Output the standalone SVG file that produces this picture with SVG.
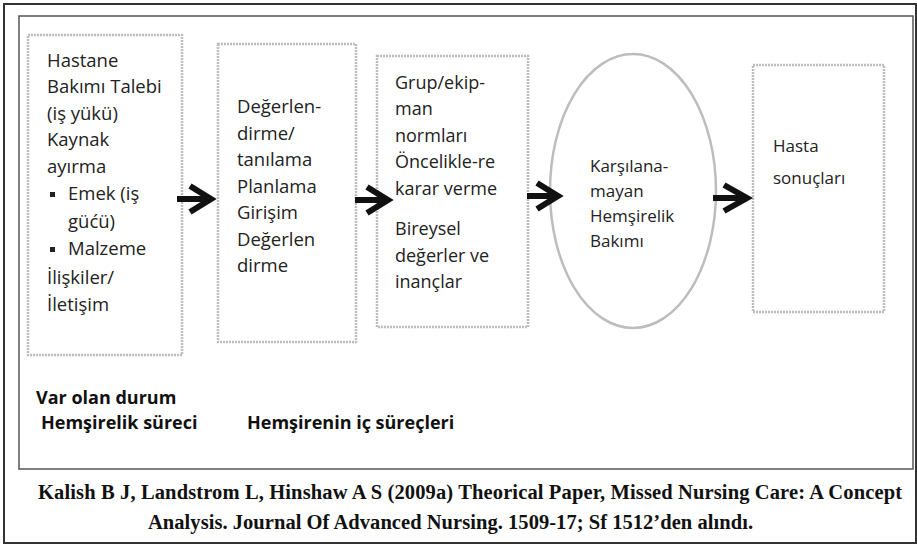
<svg xmlns="http://www.w3.org/2000/svg" width="917" height="544" viewBox="0 0 917 544">
<style>
.frame{fill:none;stroke:#333;stroke-width:2}
.inner{fill:none;stroke:#555;stroke-width:1.5}
.box{fill:#fff;stroke:#bdbdbd;stroke-width:2.5;stroke-dasharray:2 1}
.t{font-family:"Open Sans","DejaVu Sans",sans-serif;font-size:17px;fill:#222}
.l{font-size:18.5px}
.m{font-size:18px}
.b{font-family:"Open Sans","DejaVu Sans",sans-serif;font-size:18px;font-weight:bold;fill:#111}
.c{font-family:"Liberation Serif","Times New Roman",serif;font-size:20.5px;font-weight:bold;fill:#111}
.arr{fill:none;stroke:#111;stroke-width:6}
</style>
<rect x="0" y="0" width="917" height="544" fill="#fff"/>
<rect class="frame" x="4" y="4" width="912" height="539"/>
<rect class="inner" x="19" y="16" width="894" height="453"/>
<g id="node-durum">
<rect class="box" x="28" y="35" width="154" height="320"/>
<text class="t l" x="47" y="67">Hastane</text>
<text class="t l" x="47" y="93">Bakımı Talebi</text>
<text class="t l" x="47" y="120">(iş yükü)</text>
<text class="t l" x="47" y="146">Kaynak</text>
<text class="t l" x="47" y="173">ayırma</text>
<rect x="50" y="192" width="5" height="5" fill="#222"/>
<text class="t l" x="68" y="200">Emek (iş</text>
<text class="t l" x="68" y="228">güćü)</text>
<rect x="50" y="247" width="5" height="5" fill="#222"/>
<text class="t l" x="68" y="255">Malzeme</text>
<text class="t l" x="47" y="284">İlişkiler/</text>
<text class="t l" x="47" y="311">İletişim</text>
</g>
<g id="node-surec">
<rect class="box" x="218" y="44" width="138" height="298"/>
<text class="t l" x="237" y="113">Değerlen-</text>
<text class="t l" x="237" y="139.5">dirme/</text>
<text class="t l" x="237" y="166">tanılama</text>
<text class="t l" x="237" y="192.5">Planlama</text>
<text class="t l" x="237" y="219">Girişim</text>
<text class="t l" x="237" y="245.5">Değerlen</text>
<text class="t l" x="237" y="272">dirme</text>
</g>
<g id="node-ic">
<rect class="box" x="377" y="56" width="151" height="271"/>
<text class="t m" x="395" y="89">Grup/ekip-</text>
<text class="t m" x="395" y="115">man</text>
<text class="t m" x="395" y="142">normları</text>
<text class="t m" x="395" y="168">Öncelikle-re</text>
<text class="t m" x="395" y="195">karar verme</text>
<text class="t m" x="395" y="235">Bireysel</text>
<text class="t m" x="395" y="262">değerler ve</text>
<text class="t m" x="395" y="288">inançlar</text>
</g>
<g id="node-bakim">
<ellipse cx="633" cy="191" rx="83" ry="137" fill="#fff" stroke="#bdbdbd" stroke-width="2.5"/>
<text class="t" x="590" y="172">Karşılana-</text>
<text class="t" x="590" y="197">mayan</text>
<text class="t" x="590" y="222">Hemşirelik</text>
<text class="t" x="590" y="247">Bakımı</text>
</g>
<g id="node-sonuc">
<rect class="box" x="753" y="65" width="131" height="247"/>
<text class="t" x="773" y="152">Hasta</text>
<text class="t" x="773" y="184">sonuçları</text>
</g>
<g id="connectors">
<path class="arr" d="M177 199H210M190 186L211 199L190 212"/>
<path class="arr" d="M355 200H388M367 187L388 200L367 213"/>
<path class="arr" d="M527 196H558M537 183L558 196L537 209"/>
<path class="arr" d="M713 198H747M724 185L747 198L724 211"/>
</g>
<g id="labels">
<text class="b" x="36" y="404">Var olan durum</text>
<text class="b" x="41" y="429">Hemşirelik süreci</text>
<text class="b" x="247" y="429">Hemşirenin iç süreçleri</text>
</g>
<g id="caption">
<text class="c" x="38" y="499" textLength="864" lengthAdjust="spacing">Kalish B J, Landstrom L,  Hinshaw A S (2009a) Theorical Paper, Missed Nursing Care: A Concept</text>
<text class="c" x="148" y="529" textLength="605" lengthAdjust="spacing">Analysis. Journal Of Advanced Nursing. 1509-17; Sf 1512’den alındı.</text>
</g>
</svg>
